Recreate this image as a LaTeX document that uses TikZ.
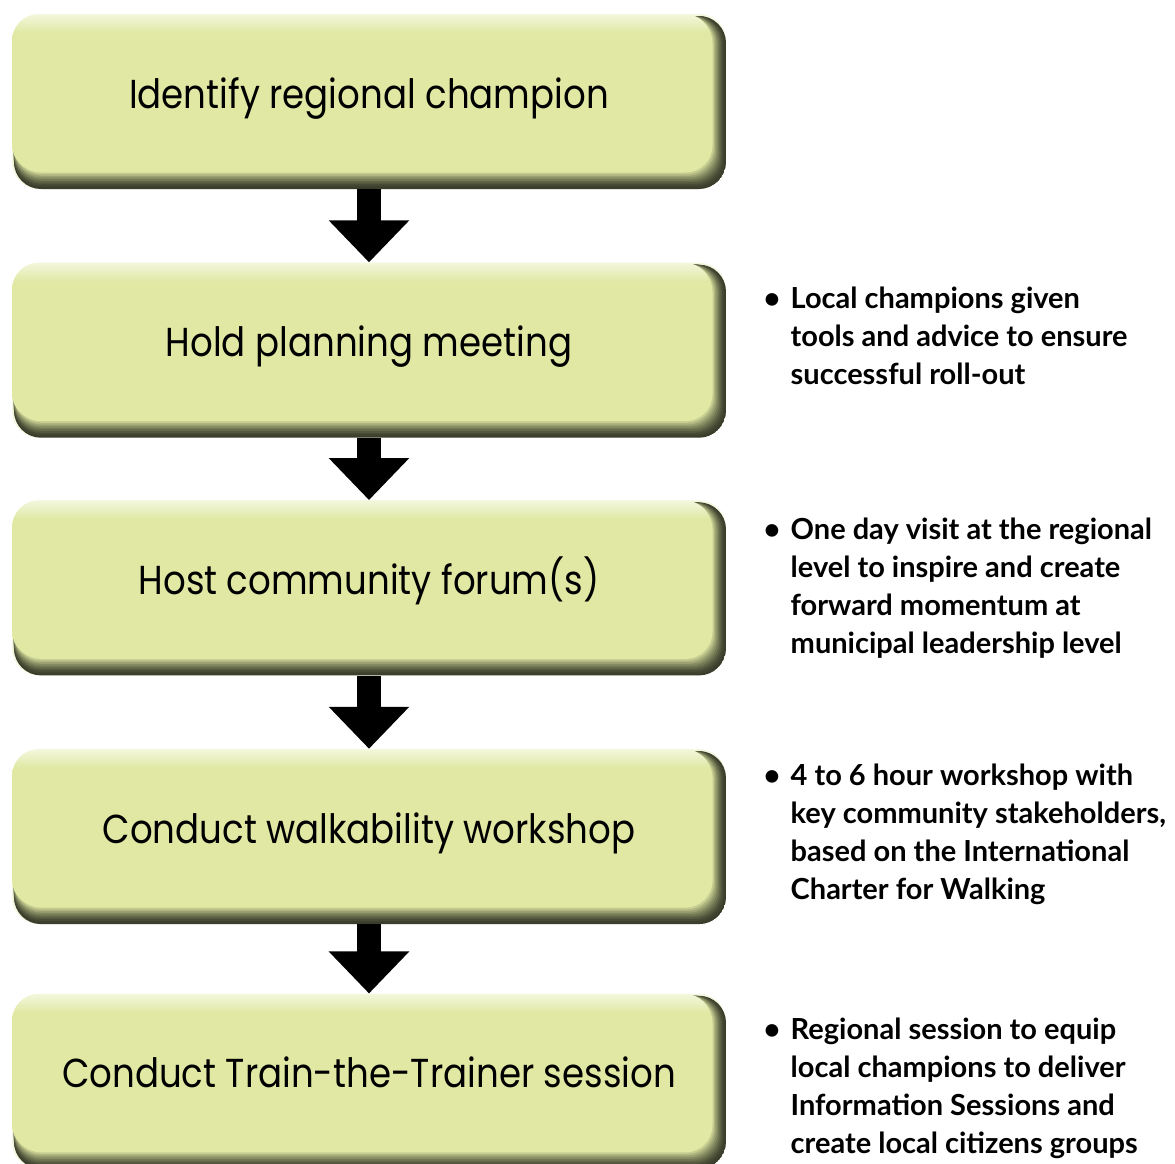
\documentclass[tikz,border=0pt]{standalone}
\usepackage{fontspec}
\setmainfont{Lato}
\newfontfamily\stepfont{Poppins}[FakeStretch=0.88]
\usetikzlibrary{arrows.meta, positioning, calc}
\definecolor{boxfill}{RGB}{224,232,163}
\definecolor{boxlight}{RGB}{243,247,221}
\definecolor{bevdark}{RGB}{58,61,43}
\pgfdeclareverticalshading{boxtop}{100bp}{color(0bp)=(boxfill); color(69bp)=(boxfill); color(75bp)=(boxlight); color(100bp)=(boxlight)}
\tikzset{
  stepbox/.style={
    rectangle, rounded corners=0.54cm, fill=boxlight,
    minimum width=14.28cm, minimum height=3.5cm,
    text height=0.6cm, text depth=0.34cm,
    font=\stepfont\fontsize{23}{27}\selectfont,
    path picture={
      \foreach \k [evaluate=\k as \p using int(100*(\k/10)^1.5)] in {0,...,10}
        \fill[boxfill!\p!bevdark, rounded corners=0.54cm]
          ([xshift=0.04cm, yshift=-0.04cm]path picture bounding box.north west) rectangle
          ([xshift=-\k*0.027cm, yshift=\k*0.033cm]path picture bounding box.south east);
      \shade[shading=boxtop, rounded corners=0.54cm]
          (path picture bounding box.north west) rectangle
          ([xshift=-0.29cm, yshift=0.35cm]path picture bounding box.south east);
    }
  },
  note/.style={
    anchor=north west, inner sep=0pt, align=left,
    font=\bfseries\fontsize{16.5}{21.6}\selectfont
  },
  blockarrow/.style={-{Triangle[width=1.56cm, length=0.84cm]}, line width=0.48cm}
}
\newcommand{\bul}{\makebox[0.54cm][l]{\textbullet}}
\newcommand{\ind}{\hspace*{0.54cm}}

\begin{document}
\begin{tikzpicture}
\useasboundingbox (0,0) rectangle (23.5,-23.26);

\node[stepbox] (b1) at (7.38,-2.03) {Identify regional champion};
\node[stepbox, below=1.46cm of b1] (b2) {Hold planning meeting};
\node[stepbox, below=1.24cm of b2] (b3) {Host community forum(s)};
\node[stepbox, below=1.46cm of b3] (b4) {Conduct walkability workshop};
\node[stepbox, below=1.38cm of b4] (b5) {Conduct Train-the-Trainer session};

\draw[blockarrow] (b1) -- (b2);
\draw[blockarrow] (b2) -- (b3);
\draw[blockarrow] (b3) -- (b4);
\draw[blockarrow] (b4) -- (b5);

\node[note, below right=0.48cm and 0.74cm of b2.north east] (n2)
  {\bul Local champions given\\ \ind tools and advice to ensure\\ \ind successful roll-out};
\node[note, below right=0.36cm and 0.74cm of b3.north east] (n3)
  {\bul One day visit at the regional\\ \ind level to inspire and create\\ \ind forward momentum at\\ \ind municipal leadership level};
\node[note, below right=0.30cm and 0.74cm of b4.north east] (n4)
  {\bul 4 to 6 hour workshop with\\ \ind key community stakeholders,\\ \ind based on the International\\ \ind Charter for Walking};
\node[note, below right=0.48cm and 0.74cm of b5.north east] (n5)
  {\bul Regional session to equip\\ \ind local champions to deliver\\ \ind Information Sessions and\\ \ind create local citizens groups};
\end{tikzpicture}
\end{document}
